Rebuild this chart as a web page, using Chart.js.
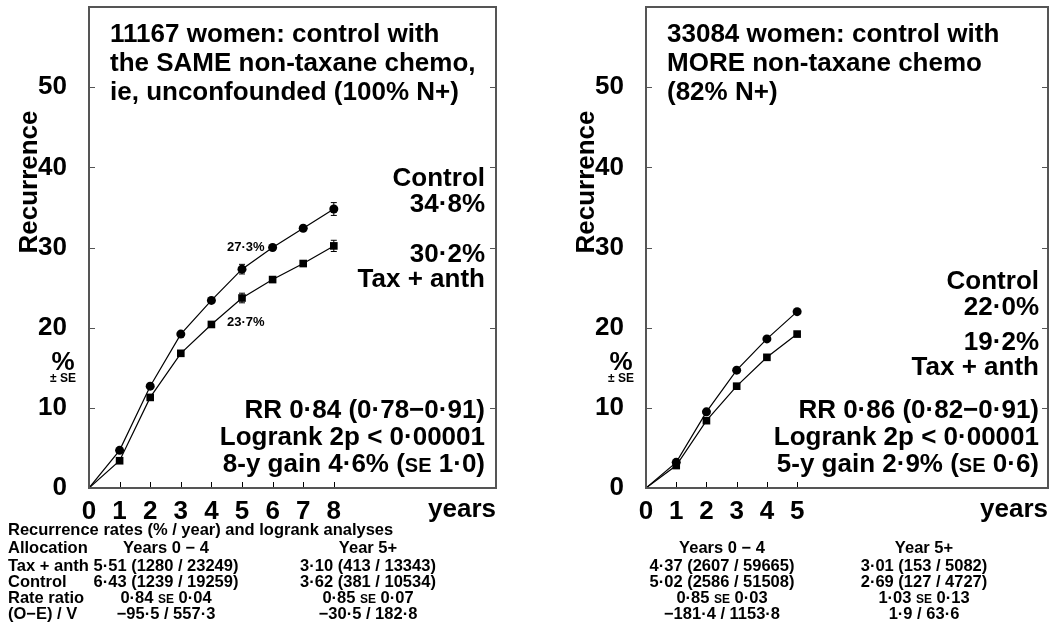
<!DOCTYPE html>
<html>
<head>
<meta charset="utf-8">
<script src="https://cdn.jsdelivr.net/npm/chart.js@4.4.0/dist/chart.umd.min.js"></script>
<style>
  body { margin: 0; background: #fff; }
  .panel { position: absolute; top: 0; width: 532px; height: 630px; }
  #panelSame { left: 0; }
  #panelMore { left: 532px; }
</style>
</head>
<body>
<div class="panel" id="panelSame"><canvas id="sameChart"></canvas></div>
<div class="panel" id="panelMore"><canvas id="moreChart"></canvas></div>
<script>
const FONT = "'Liberation Sans', Arial, Helvetica, sans-serif";

const yTicks = [0, 10, 20, 30, 40, 50];

// Left panel: control arm got the same non-taxane chemo
const sameYears = [0, 1, 2, 3, 4, 5, 6, 7, 8];
const sameControl = [0, 4.7, 12.7, 19.2, 23.4, 27.3, 30.0, 32.4, 34.8];
const sameTaxAnth = [0, 3.4, 11.3, 16.8, 20.4, 23.7, 26.0, 28.0, 30.2];
const sameControlSE = [null, null, null, null, null, 0.6, null, null, 0.8];
const sameTaxAnthSE = [null, null, null, null, null, 0.6, null, null, 0.7];
const sameTitle = ['11167 women: control with', 'the SAME non-taxane chemo,', 'ie, unconfounded (100% N+)'];
const sameStats = ['RR 0·84 (0·78−0·91)', 'Logrank 2p < 0·00001', '8-y gain 4·6% (|SE| 1·0)'];
const sameTable = [
  ['Allocation', 'Years 0 − 4', 'Year 5+'],
  ['Tax + anth', '5·51 (1280 / 23249)', '3·10 (413 / 13343)'],
  ['Control', '6·43 (1239 / 19259)', '3·62 (381 / 10534)'],
  ['Rate ratio', '0·84 |SE| 0·04', '0·85 |SE| 0·07'],
  ['(O−E) / V', '−95·5 / 557·3', '−30·5 / 182·8']
];

// Right panel: control arm got more non-taxane chemo
const moreYears = [0, 1, 2, 3, 4, 5];
const moreControl = [0, 3.2, 9.5, 14.7, 18.6, 22.0];
const moreTaxAnth = [0, 2.8, 8.4, 12.7, 16.3, 19.2];
const moreTitle = ['33084 women: control with', 'MORE non-taxane chemo', '(82% N+)'];
const moreStats = ['RR 0·86 (0·82−0·91)', 'Logrank 2p < 0·00001', '5-y gain 2·9% (|SE| 0·6)'];
const moreTable = [
  ['', 'Years 0 − 4', 'Year 5+'],
  ['', '4·37 (2607 / 59665)', '3·01 (153 / 5082)'],
  ['', '5·02 (2586 / 51508)', '2·69 (127 / 4727)'],
  ['', '0·85 |SE| 0·03', '1·03 |SE| 0·13'],
  ['', '−181·4 / 1153·8', '1·9 / 63·6']
];

const pct = v => v.toFixed(1).replace('.', '·') + '%';

// text with "|"-delimited small-caps runs
function richText(ctx, str, x, y, size, small, align) {
  const parts = str.split('|');
  const fonts = parts.map((p, i) => `bold ${i % 2 ? small : size}px ${FONT}`);
  let total = 0;
  const widths = parts.map((p, i) => {
    ctx.font = fonts[i];
    const w = ctx.measureText(p).width;
    total += w;
    return w;
  });
  let cx = align === 'right' ? x - total : align === 'center' ? x - total / 2 : x;
  ctx.textAlign = 'left';
  ctx.textBaseline = 'alphabetic';
  parts.forEach((p, i) => {
    ctx.font = fonts[i];
    ctx.fillText(p, cx, y);
    cx += widths[i];
  });
}

function seg(ctx, x1, y1, x2, y2) {
  ctx.beginPath();
  ctx.moveTo(x1, y1);
  ctx.lineTo(x2, y2);
  ctx.stroke();
}

const panelDecor = {
  id: 'panelDecor',
  afterDraw(chart, args, o) {
    const { ctx, chartArea: a, scales: { x, y } } = chart;
    const ctrl = chart.data.datasets[0].data;
    const tax = chart.data.datasets[1].data;
    const last = o.years.length - 1;
    ctx.save();

    // error bars
    ctx.strokeStyle = '#000';
    ctx.lineWidth = 1;
    chart.data.datasets.forEach(ds => {
      (ds.se || []).forEach((s, i) => {
        if (s == null) return;
        const px = x.getPixelForValue(o.years[i]);
        const y1 = y.getPixelForValue(ds.data[i] + s);
        const y2 = y.getPixelForValue(ds.data[i] - s);
        seg(ctx, px, y1, px, y2);
        seg(ctx, px - 3, y1, px + 3, y1);
        seg(ctx, px - 3, y2, px + 3, y2);
      });
    });

    // inward tick marks
    ctx.strokeStyle = '#555';
    yTicks.slice(1).forEach(v => {
      const py = Math.round(y.getPixelForValue(v)) + 0.5;
      seg(ctx, a.left, py, a.left + 6, py);
      seg(ctx, a.right - 6, py, a.right, py);
    });
    ctx.strokeStyle = '#000';
    o.years.slice(1).forEach(v => {
      const px = Math.round(x.getPixelForValue(v)) + 0.5;
      seg(ctx, px, a.bottom, px, a.bottom - 6);
    });

    // frame
    ctx.strokeStyle = '#555';
    ctx.lineWidth = 2;
    ctx.strokeRect(a.left, a.top, a.right - a.left, a.bottom - a.top);

    ctx.fillStyle = '#000';
    // title
    o.title.forEach((t, i) => richText(ctx, t, o.titleX, 42 + i * 29, 26, 20, 'left'));

    // end-of-curve labels
    const rx = o.labelRight;
    richText(ctx, 'Control', rx, o.ctrlY, 26, 20, 'right');
    richText(ctx, pct(ctrl[last]), rx, o.ctrlY + 26, 26, 20, 'right');
    richText(ctx, pct(tax[last]), rx, o.taxY, 26, 20, 'right');
    richText(ctx, 'Tax + anth', rx, o.taxY + 25, 26, 20, 'right');

    // summary statistics
    o.stats.forEach((t, i) => richText(ctx, t, rx, 418 + i * 27, 26, 20, 'right'));

    // values marked at year 5
    if (o.markYear != null) {
      const px = x.getPixelForValue(o.markYear);
      richText(ctx, pct(ctrl[o.markYear]), px - 15, y.getPixelForValue(ctrl[o.markYear]) - 18, 13, 10, 'left');
      richText(ctx, pct(tax[o.markYear]), px - 15, y.getPixelForValue(tax[o.markYear]) + 28, 13, 10, 'left');
    }

    // axis captions
    richText(ctx, 'years', a.right, 517, 26, 20, 'right');
    richText(ctx, '%', o.pctX, 370, 26, 20, 'center');
    richText(ctx, '± SE', o.pctX, 382, 12, 12, 'center');
    ctx.save();
    ctx.translate(o.axisTitleX, 182);
    ctx.rotate(-Math.PI / 2);
    richText(ctx, 'Recurrence', 0, 9, 26, 20, 'center');
    ctx.restore();

    // rates table
    if (o.tableHead) richText(ctx, o.tableHead, 8, 535, 16.5, 12, 'left');
    const rowY = [553, 571, 587, 603, 619];
    o.table.forEach((row, i) => {
      if (row[0]) richText(ctx, row[0], 8, rowY[i], 16.5, 12, 'left');
      richText(ctx, row[1], o.colX[0], rowY[i], 16.5, 12, 'center');
      richText(ctx, row[2], o.colX[1], rowY[i], 16.5, 12, 'center');
    });
    ctx.restore();
  }
};

function makePanel(id, years, control, taxAnth, controlSE, taxAnthSE, decor) {
  const pr = years.map(v => (v === 0 ? 0 : 4.5));
  const prSq = years.map(v => (v === 0 ? 0 : 5.4));
  return new Chart(document.getElementById(id), {
    type: 'line',
    data: {
      labels: years,
      datasets: [
        {
          label: 'Control',
          data: control,
          se: controlSE,
          borderColor: '#000',
          borderWidth: 1.2,
          backgroundColor: '#000',
          pointStyle: 'circle',
          pointRadius: pr,
          pointBorderWidth: 0,
          tension: 0
        },
        {
          label: 'Tax + anth',
          data: taxAnth,
          se: taxAnthSE,
          borderColor: '#000',
          borderWidth: 1.2,
          backgroundColor: '#000',
          pointStyle: 'rect',
          pointRadius: prSq,
          pointBorderWidth: 0,
          tension: 0
        }
      ]
    },
    options: {
      responsive: true,
      maintainAspectRatio: false,
      animation: false,
      layout: { padding: { left: 0, top: 7, right: decor.padRight, bottom: 0 } },
      scales: {
        x: {
          type: 'linear',
          min: 0,
          max: 13.3,
          afterFit: s => {
            s.height = 142;
            s.paddingLeft = 0;
            s.paddingRight = 0;
          },
          grid: { display: false },
          border: { display: false },
          ticks: {
            stepSize: 1,
            autoSkip: false,
            maxRotation: 0,
            padding: 0,
            color: '#000',
            font: { family: FONT, size: 26, weight: 'bold' },
            callback: v => (Number.isInteger(v) && v <= years[years.length - 1] ? v : '')
          }
        },
        y: {
          min: 0,
          max: 60,
          afterFit: s => {
            s.width = decor.axisWidth;
            s.paddingTop = 0;
            s.paddingBottom = 0;
          },
          grid: { display: false },
          border: { display: false },
          ticks: {
            stepSize: 10,
            padding: 14,
            color: '#000',
            font: { family: FONT, size: 26, weight: 'bold' },
            callback: v => (yTicks.includes(v) ? v : '')
          }
        }
      },
      plugins: {
        legend: { display: false },
        tooltip: { enabled: false },
        panelDecor: decor
      }
    },
    plugins: [panelDecor]
  });
}

makePanel('sameChart', sameYears, sameControl, sameTaxAnth, sameControlSE, sameTaxAnthSE, {
  years: sameYears,
  axisWidth: 89,
  padRight: 36,
  title: sameTitle,
  titleX: 110,
  labelRight: 485,
  ctrlY: 186,
  taxY: 262,
  stats: sameStats,
  markYear: 5,
  pctX: 63,
  axisTitleX: 28,
  tableHead: 'Recurrence rates (% / year) and logrank analyses',
  table: sameTable,
  colX: [166, 368]
});

makePanel('moreChart', moreYears, moreControl, moreTaxAnth, null, null, {
  years: moreYears,
  axisWidth: 114,
  padRight: 16,
  title: moreTitle,
  titleX: 135,
  labelRight: 507,
  ctrlY: 289,
  taxY: 350,
  stats: moreStats,
  markYear: null,
  pctX: 89,
  axisTitleX: 53,
  tableHead: null,
  table: moreTable,
  colX: [190, 392]
});
</script>
</body>
</html>
